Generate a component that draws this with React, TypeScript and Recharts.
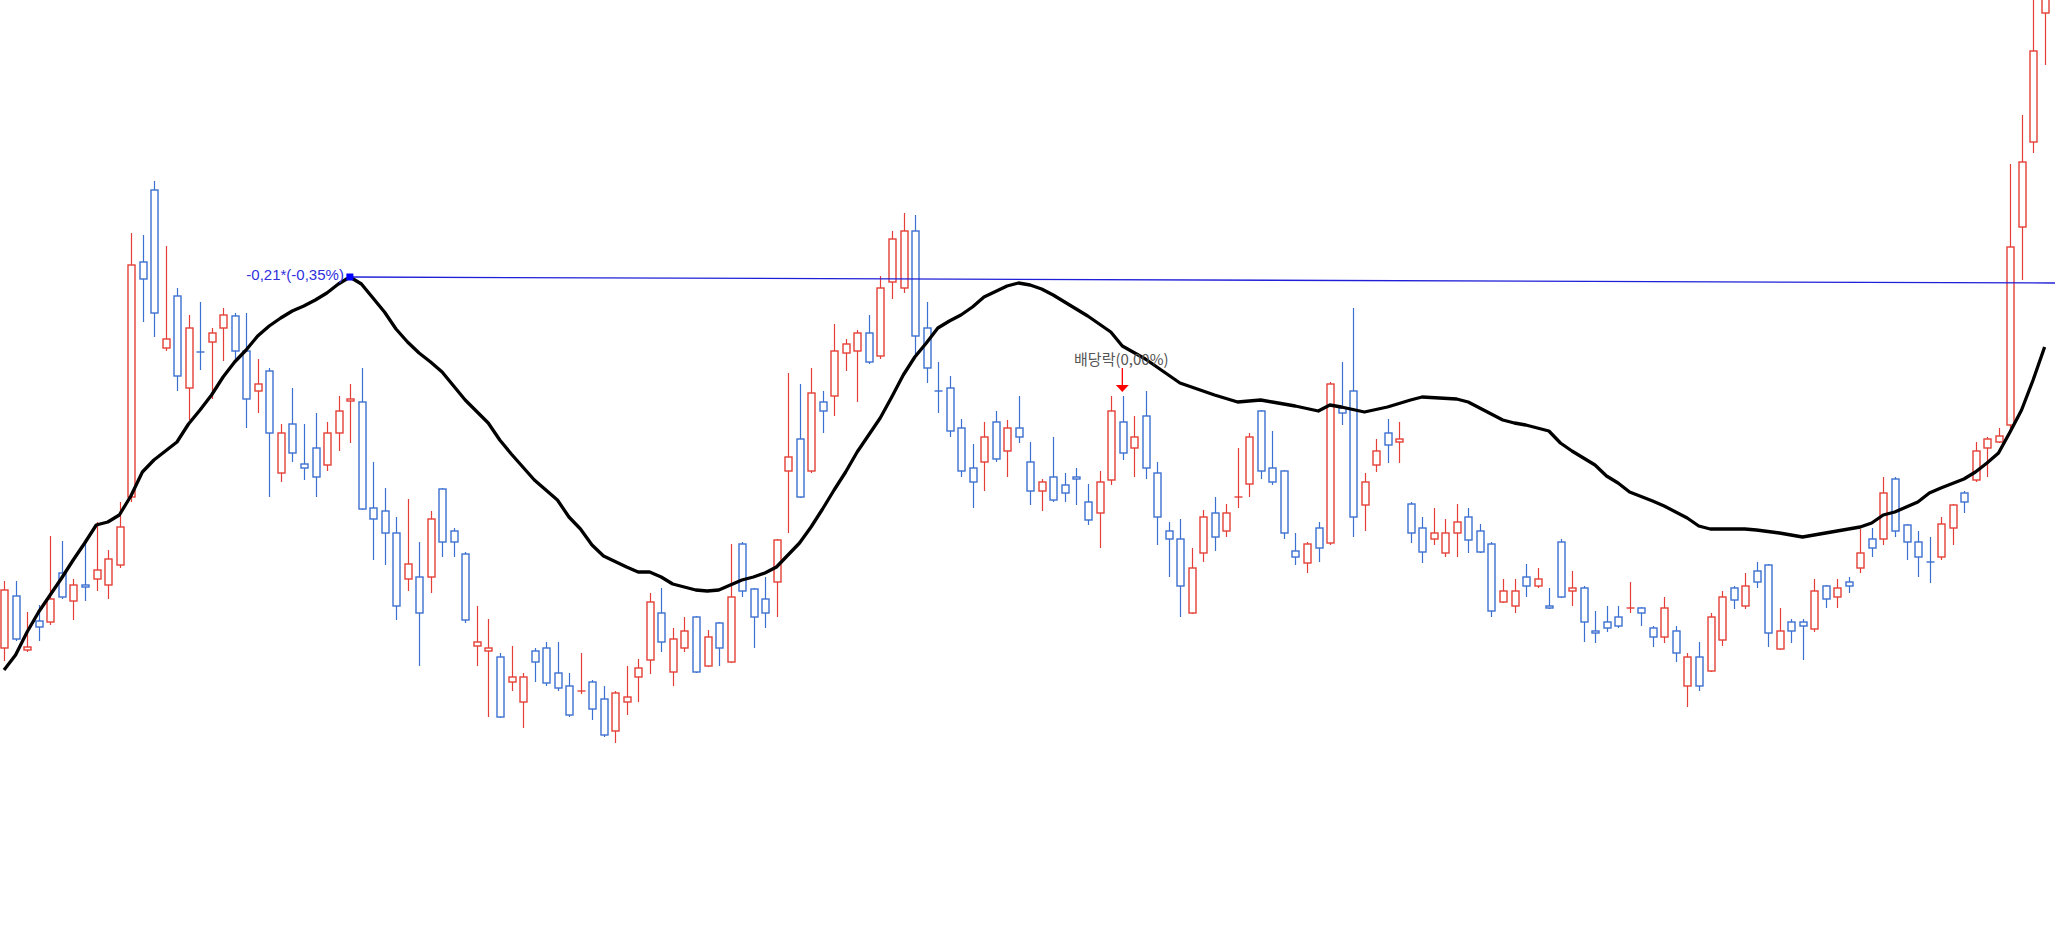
import React from 'react';
import {
  ComposedChart,
  Bar,
  Line,
  XAxis,
  YAxis,
  ReferenceLine,
  ReferenceDot,
} from 'recharts';

// daily candles (price units are arbitrary)
const high = [
  41.9, 41.9, 38.8, 39.5, 46.4, 45.9, 42.1, 45.7, 47.8, 45.0,
  49.8, 76.7, 76.5, 81.9, 75.4, 71.2, 68.5, 69.8, 67.2, 69.2,
  68.7, 68.7, 64.1, 63.2, 57.6, 61.2, 57.6, 58.7, 57.8, 60.4,
  61.6, 63.2, 53.8, 51.2, 48.3, 50.1, 45.8, 48.9, 51.2, 47.2,
  44.8, 39.4, 38.1, 34.7, 35.4, 32.7, 35.2, 35.8, 35.8, 32.7,
  34.7, 32.0, 31.4, 30.9, 33.4, 34.1, 40.7, 41.2, 37.2, 38.3,
  38.4, 37.0, 37.8, 45.6, 45.8, 41.2, 42.3, 46.1, 62.7, 61.6,
  63.2, 60.9, 67.6, 66.1, 67.0, 68.5, 72.4, 76.9, 78.7, 78.5,
  69.8, 63.8, 62.4, 58.1, 55.6, 57.8, 58.9, 58.0, 60.4, 55.8,
  52.1, 56.3, 52.7, 53.2, 51.6, 52.9, 60.4, 60.4, 58.4, 60.9,
  53.8, 47.8, 48.1, 45.2, 49.0, 50.3, 49.6, 55.2, 56.7, 59.0,
  56.9, 53.0, 46.7, 45.8, 47.8, 61.8, 63.8, 69.2, 52.7, 56.1,
  58.1, 57.8, 49.8, 48.3, 49.2, 48.1, 49.6, 49.2, 47.6, 45.8,
  42.1, 42.1, 43.6, 43.2, 41.2, 46.1, 42.9, 41.4, 38.9, 39.4,
  39.4, 41.8, 39.3, 37.4, 40.3, 37.4, 34.7, 35.8, 38.7, 40.9,
  41.4, 42.7, 43.8, 43.6, 39.2, 38.1, 38.1, 42.1, 41.5, 42.1,
  42.3, 47.1, 47.2, 52.3, 52.3, 47.6, 46.9, 46.3, 48.3, 49.6,
  50.9, 55.8, 56.3, 57.2, 83.6, 88.5, 102.0, 106.0,
];

const open = [
  35.2, 40.4, 35.0, 37.9, 37.8, 42.7, 39.9, 41.5, 42.1, 41.5,
  43.5, 50.3, 73.8, 81.0, 65.2, 70.4, 61.2, 64.8, 65.8, 67.2,
  68.4, 64.9, 60.9, 62.9, 52.7, 57.6, 53.6, 55.2, 53.5, 56.7,
  59.9, 59.8, 49.2, 48.9, 46.7, 42.1, 42.3, 42.3, 51.1, 46.9,
  44.6, 35.4, 34.9, 34.3, 31.8, 29.8, 34.9, 35.2, 32.7, 31.4,
  30.8, 31.8, 30.1, 26.9, 29.8, 32.3, 34.0, 38.7, 32.8, 35.2,
  38.3, 33.4, 37.7, 33.8, 45.6, 41.1, 40.1, 41.8, 52.9, 56.1,
  52.9, 59.8, 60.4, 64.7, 64.9, 66.7, 64.4, 71.8, 71.2, 76.9,
  67.2, 60.9, 61.2, 57.2, 53.2, 53.8, 57.8, 54.9, 57.2, 53.8,
  50.9, 52.3, 51.5, 52.3, 49.8, 48.7, 52.0, 57.8, 55.2, 58.4,
  52.7, 46.9, 46.1, 38.7, 44.7, 48.7, 46.9, 50.2, 51.6, 58.9,
  53.2, 52.9, 44.9, 43.7, 47.2, 45.7, 59.2, 60.9, 49.5, 53.5,
  56.7, 55.8, 49.6, 47.2, 46.1, 44.7, 46.7, 48.3, 46.9, 45.6,
  39.8, 39.4, 42.3, 41.4, 39.4, 45.8, 40.9, 41.2, 36.9, 37.8,
  38.3, 39.1, 39.2, 37.2, 36.3, 36.9, 31.4, 34.3, 32.9, 36.0,
  41.2, 39.4, 42.9, 43.5, 35.1, 37.8, 37.8, 37.1, 41.4, 40.3,
  41.8, 43.2, 46.1, 46.1, 52.1, 47.5, 45.8, 43.8, 44.3, 47.2,
  50.7, 52.0, 55.2, 55.8, 57.5, 77.3, 85.8, 98.7,
];

const close = [
  41.0, 36.1, 35.3, 37.3, 40.1, 40.3, 41.5, 41.3, 43.0, 44.1,
  47.3, 73.5, 72.1, 68.7, 66.1, 62.4, 67.2, 64.7, 66.7, 68.5,
  64.9, 60.1, 61.6, 56.7, 56.7, 54.7, 53.2, 52.3, 56.7, 58.9,
  60.1, 49.1, 48.1, 46.7, 39.4, 43.6, 38.7, 48.1, 45.8, 45.8,
  38.0, 35.8, 35.2, 28.3, 32.3, 32.3, 33.8, 31.7, 31.2, 28.5,
  30.9, 29.1, 26.5, 30.7, 30.3, 33.2, 39.8, 35.8, 36.1, 36.9,
  32.8, 36.3, 35.2, 40.3, 40.9, 38.3, 38.7, 46.0, 54.3, 50.3,
  60.7, 58.9, 64.9, 65.6, 66.7, 63.8, 71.2, 76.1, 76.9, 66.4,
  63.2, 60.8, 56.9, 52.9, 51.8, 56.3, 54.1, 57.2, 56.3, 50.9,
  51.8, 50.0, 50.7, 52.1, 48.0, 51.8, 58.9, 54.7, 56.3, 53.2,
  48.3, 46.1, 41.4, 43.2, 48.3, 46.3, 48.7, 50.3, 56.3, 52.9,
  51.8, 46.7, 44.3, 45.6, 45.2, 61.6, 58.7, 48.3, 51.8, 54.9,
  55.5, 56.1, 46.7, 44.8, 46.7, 46.7, 47.8, 46.0, 44.8, 38.9,
  40.9, 40.9, 41.4, 42.1, 39.2, 40.3, 41.2, 37.8, 36.7, 37.2,
  37.4, 39.2, 38.7, 36.3, 39.2, 34.7, 34.3, 31.4, 38.3, 40.3,
  40.0, 41.4, 41.8, 36.7, 36.9, 36.9, 37.4, 40.9, 40.1, 41.2,
  41.4, 44.7, 45.2, 50.7, 46.9, 45.8, 44.3, 43.7, 47.6, 49.5,
  49.8, 54.9, 56.1, 56.4, 75.3, 83.8, 94.9, 103.0,
];

const low = [
  33.9, 35.9, 34.8, 35.9, 37.5, 40.1, 38.0, 39.9, 40.9, 40.1,
  43.2, 49.8, 67.8, 66.3, 64.9, 60.9, 58.0, 63.0, 60.1, 63.9,
  64.0, 57.2, 58.7, 50.3, 51.8, 53.8, 52.0, 50.3, 52.9, 54.9,
  55.7, 49.0, 44.0, 43.5, 38.0, 40.9, 33.4, 40.7, 44.3, 44.3,
  37.7, 33.4, 28.3, 28.2, 30.9, 27.2, 31.8, 31.4, 30.9, 28.3,
  30.6, 28.0, 26.3, 25.7, 28.5, 29.8, 32.6, 34.8, 31.4, 34.8,
  32.7, 33.3, 33.4, 33.7, 40.3, 35.2, 37.2, 38.3, 46.7, 50.2,
  52.7, 56.7, 58.4, 62.9, 59.8, 63.6, 64.1, 70.1, 70.7, 64.3,
  61.7, 58.7, 56.3, 52.3, 49.2, 50.9, 53.8, 52.3, 55.7, 49.5,
  48.9, 49.8, 49.8, 49.5, 47.5, 45.2, 51.5, 54.0, 52.3, 52.1,
  45.5, 42.3, 38.3, 38.6, 43.8, 44.9, 46.3, 49.2, 50.3, 52.1,
  51.5, 46.1, 43.5, 42.7, 43.8, 45.5, 57.5, 46.3, 46.9, 52.8,
  53.7, 53.7, 45.7, 43.7, 45.5, 44.3, 44.3, 44.7, 44.7, 38.3,
  39.7, 38.7, 40.3, 41.2, 39.1, 40.2, 39.4, 35.8, 35.7, 36.8,
  37.2, 38.7, 37.4, 35.3, 35.7, 33.8, 29.3, 30.9, 32.8, 35.4,
  39.1, 39.1, 41.2, 35.3, 35.0, 35.7, 34.0, 36.8, 39.2, 39.2,
  40.7, 42.7, 44.3, 45.5, 46.3, 44.0, 42.3, 41.7, 44.0, 45.5,
  48.7, 51.8, 52.3, 55.7, 57.0, 72.0, 84.7, 93.5,
];

// moving average, sampled from the black curve (null = not read)
const ma = [
  33.0, 34.5, 36.8, 38.8, 40.5, 42.2, 44.0, 45.7, 47.5, 47.8,
  48.5, 50.4, 52.8, 54.0, null, 55.8, 57.6, 59.0, 60.5, 62.3,
  63.8, 65.0, 66.4, 67.4, 68.2, 68.9, 69.4, 70.0, 70.7, 71.6,
  72.3, 71.6, 70.2, 68.8, 67.1, 65.8, 64.7, 63.8, 62.8, 61.4,
  60.0, null, 57.7, 56.0, 54.6, null, 52.0, null, 50.0, 48.3,
  47.1, 45.5, 44.4, null, 43.3, 42.8, 42.8, 42.3, 41.6, null,
  41.0, 40.9, 41.0, 41.5, 42.0, 42.3, 42.7, 43.3, 44.5, 45.7,
  47.3, 49.1, 51.0, 52.8, 54.8, null, 58.2, 60.3, 62.5, 64.3,
  65.7, 67.2, 67.9, 68.5, 69.3, 70.3, null, 71.4, 71.7, 71.5,
  71.1, 70.5, null, 69.1, 68.4, 67.6, 66.8, 65.4, null, 64.1,
  63.3, null, 61.7, 61.3, null, 60.5, null, 59.8, null, 60.0,
  59.8, null, 59.4, null, 58.9, 59.5, 59.3, null, 58.8, null,
  59.3, null, 60.0, 60.3, null, null, 60.1, 59.8, null, 58.6,
  58.0, 57.7, 57.5, null, 56.9, 55.7, 54.9, null, 53.5, 52.4,
  51.7, 50.8, null, 49.9, 49.4, null, 48.2, 47.4, 47.1, null,
  null, 47.1, 47.0, null, 46.7, null, 46.3, 46.5, null, 46.9,
  null, 47.3, 47.7, 48.5, 48.8, null, 49.8, 50.7, 51.2, null,
  52.1, 52.8, 53.7, 54.7, 56.8, 59.0, 62.0, 65.3,
];

// annotations
const peakIndex = 30;
const peakPrice = 72.3;
const lineEndIndex = 177.9;
const lineEndPrice = 71.7;
const peakLabel = '-0,21*(-0,35%)';
const dividendIndex = 97;
const dividendPrice = 60.8;
const dividendLabel = '배당락(0,00%)';

const RED = '#e43f37';
const BLUE = '#3b6fd0';

const data = high.map((h, i) => ({
  i,
  range: [low[i], h],
  open: open[i],
  close: close[i],
  high: h,
  low: low[i],
  ma: ma[i],
}));

const Candle = (props: any) => {
  const { x, y, width, height, payload } = props;
  if (!payload || x == null || y == null) return null;
  const top = Math.min(y, y + height);
  const bot = Math.max(y, y + height);
  const span = payload.high - payload.low;
  const k = span > 0 ? (bot - top) / span : 0;
  const py = (v: number) => top + (payload.high - v) * k;
  const up = payload.close >= payload.open;
  const color = up ? RED : BLUE;
  const cx = Math.round(x + width / 2) + 0.5;
  const bTop = py(Math.max(payload.open, payload.close));
  const bBot = py(Math.min(payload.open, payload.close));
  return (
    <g>
      <line x1={cx} x2={cx} y1={top} y2={bot} stroke={color} strokeWidth={1.2} />
      {bBot - bTop < 1.5 ? (
        <line x1={cx - 4} x2={cx + 4} y1={bTop} y2={bTop} stroke={color} strokeWidth={1.4} />
      ) : (
        <rect
          x={cx - 3.5}
          y={bTop}
          width={7}
          height={bBot - bTop}
          fill="#ffffff"
          stroke={color}
          strokeWidth={1.4}
        />
      )}
    </g>
  );
};

const PeakMarker = (props: any) => {
  const { cx, cy } = props;
  return (
    <g>
      <rect x={cx - 3.5} y={cy - 3.5} width={7} height={7} fill="#0000ff" />
      <text
        x={cx - 6}
        y={cy + 3}
        textAnchor="end"
        fontSize={15}
        fontFamily="'Liberation Sans', Arial, sans-serif"
        fill="#3030dd"
      >
        {peakLabel}
      </text>
    </g>
  );
};

const DividendMarker = (props: any) => {
  const { cx, cy } = props;
  return (
    <g>
      <line x1={cx} x2={cx} y1={cy - 24} y2={cy - 6} stroke="#ff0000" strokeWidth={1.3} />
      <polygon points={`${cx - 6.5},${cy - 7} ${cx + 6.5},${cy - 7} ${cx},${cy}`} fill="#ff0000" />
      <text
        x={cx - 1}
        y={cy - 27}
        textAnchor="middle"
        fontSize={15}
        fontFamily="'Noto Sans CJK KR', sans-serif"
        fill="#555555"
      >
        {dividendLabel}
      </text>
    </g>
  );
};

export default function App() {
  return (
    <div style={{ position: 'absolute', left: 0, top: 0, width: 2055, height: 933, background: '#fff' }}>
      <ComposedChart width={2055} height={933} data={data} margin={{ top: 0, right: 0, bottom: 0, left: 0 }}>
        <XAxis dataKey="i" type="number" domain={[-0.35, 177.9]} allowDataOverflow hide />
        <YAxis type="number" domain={[6.7, 100]} allowDataOverflow hide />

        <Bar dataKey="range" barSize={8} shape={<Candle />} isAnimationActive={false} />

        <Line
          type="linear"
          dataKey="ma"
          stroke="#000000"
          strokeWidth={3.3}
          strokeLinejoin="round"
          dot={false}
          activeDot={false}
          connectNulls
          isAnimationActive={false}
        />

        <ReferenceLine
          segment={[
            { x: peakIndex, y: peakPrice },
            { x: lineEndIndex, y: lineEndPrice },
          ]}
          stroke="#1f1fd8"
          strokeWidth={1.3}
        />
        <ReferenceDot x={peakIndex} y={peakPrice} r={4} shape={<PeakMarker />} />
        <ReferenceDot x={dividendIndex} y={dividendPrice} r={4} shape={<DividendMarker />} />
      </ComposedChart>
    </div>
  );
}
